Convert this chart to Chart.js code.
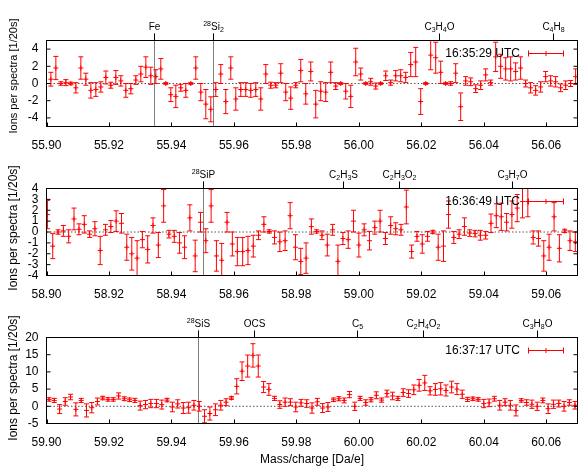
<!DOCTYPE html>
<html>
<head>
<meta charset="utf-8">
<script src="https://cdn.jsdelivr.net/npm/chart.js@4.4.1/dist/chart.umd.min.js"></script>
<style>
  html, body { margin: 0; padding: 0; background: #fff; }
  canvas { display: block; }
</style>
</head>
<body>
<canvas id="p1" width="581" height="160"></canvas>
<canvas id="p2" width="581" height="150"></canvas>
<canvas id="p3" width="581" height="163"></canvas>
<script>
// ---- panel 1 : 16:35:29 UTC, around m/z 56 ----
const p1Mass = [
  55.9014, 55.9030, 55.9046, 55.9062, 55.9078, 55.9094, 55.9110, 55.9126, 55.9142, 55.9158,
  55.9174, 55.9190, 55.9206, 55.9222, 55.9238, 55.9254, 55.9270, 55.9286, 55.9302, 55.9318,
  55.9334, 55.9350, 55.9366, 55.9382, 55.9398, 55.9414, 55.9430, 55.9446, 55.9462, 55.9478,
  55.9494, 55.9510, 55.9526, 55.9542, 55.9558, 55.9574, 55.9590, 55.9606, 55.9622, 55.9638,
  55.9654, 55.9670, 55.9686, 55.9702, 55.9718, 55.9734, 55.9750, 55.9766, 55.9782, 55.9798,
  55.9814, 55.9830, 55.9846, 55.9862, 55.9878, 55.9894, 55.9910, 55.9926, 55.9942, 55.9958,
  55.9974, 55.9990, 56.0006, 56.0022, 56.0038, 56.0054, 56.0070, 56.0086, 56.0102, 56.0118,
  56.0134, 56.0150, 56.0166, 56.0182, 56.0198, 56.0214, 56.0230, 56.0246, 56.0262, 56.0278,
  56.0294, 56.0310, 56.0326, 56.0342, 56.0358, 56.0374, 56.0390, 56.0406, 56.0422, 56.0438,
  56.0454, 56.0470, 56.0486, 56.0502, 56.0518, 56.0534, 56.0550, 56.0566, 56.0582, 56.0598,
  56.0614, 56.0630, 56.0646, 56.0662, 56.0678, 56.0694
];
const p1Ions = [
  0.5, 1.8, 0, 0.1, 0, -0.5, 1.8, 0.5, -0.8, -0.7,
  -0.4, 0.7, -0.2, 0.7, 0.3, -0.8, -0.6, 0.4, 1.1, 1.9,
  0.9, 0.8, 1.7, 0, -1.3, -1.5, -0.5, -0.8, 0, 1.8,
  -1.0, -2.4, -3.0, -0.7, 1.1, -2.1, 1.8, -1.8, -0.7, -0.7,
  -0.8, -0.7, -1.8, 1.1, -0.2, -0.2, 1.2, -1.0, -1.7, -0.2,
  1.5, -1.2, 1.4, -2.4, -0.9, -1.0, 1.3, -0.3, 0, -0.9,
  -1.5, 2.5, 1.1, 0, 0.2, -0.3, 0, 0.9, 0.1, 0.9,
  0.9, 0.7, 2.2, 2.5, -2.1, 0, 3.3, 3.0, 1.3, 0,
  0, 1.2, -2.7, 0.3, 0.2, -0.6, -0.2, 1.0, 0.1, 3.1,
  2.0, 1.7, 1.7, 1.4, 1.8, 0, -0.5, -0.8, -0.4, 0.8,
  0.3, 0.2, -0.5, -0.2, 0, 0.8
];
const p1Err = [
  0.8, 1.35, 0.2, 0.35, 0.15, 0.6, 1.3, 0.7, 0.9, 0.8,
  0.6, 0.75, 0.35, 0.8, 0.6, 0.8, 0.6, 0.5, 0.9, 1.2,
  1.0, 0.8, 1.2, 0.1, 0.8, 1.3, 0.4, 0.8, 0.1, 1.3,
  1.0, 1.7, 1.45, 0.8, 1.1, 1.4, 1.3, 1.3, 0.8, 0.8,
  0.8, 0.8, 1.3, 1.1, 0.35, 0.3, 1.1, 1.0, 1.3, 0.3,
  1.3, 1.2, 1.1, 1.6, 1.1, 1.1, 1.2, 0.4, 0.1, 0.9,
  1.3, 1.6, 0.7, 0.1, 0.4, 0.35, 0.1, 0.55, 0.3, 0.6,
  0.7, 0.6, 1.4, 1.7, 1.5, 0.1, 1.7, 1.8, 1.3, 0.1,
  0.2, 1.1, 1.6, 0.5, 0.45, 0.45, 0.5, 0.7, 0.3, 1.7,
  1.4, 1.3, 1.4, 1.0, 1.3, 0.4, 0.6, 0.55, 0.6, 0.6,
  0.6, 0.6, 0.45, 0.5, 0.35, 0.9
];
const p1Ticks = [55.90, 55.92, 55.94, 55.96, 55.98, 56.00, 56.02, 56.04, 56.06];
const p1YTicks = [-4, -2, 0, 2, 4];
const p1PeakMass = [55.9344, 55.9533, 56.0257, 56.0621];
const p1PeakName = ['Fe', '^28Si_2', 'C_3H_4O', 'C_4H_8'];

// ---- panel 2 : 16:36:49 UTC, around m/z 59 ----
const p2Mass = [
  58.9003, 58.9020, 58.9037, 58.9054, 58.9071, 58.9088, 58.9104, 58.9121, 58.9138, 58.9155,
  58.9172, 58.9189, 58.9206, 58.9223, 58.9240, 58.9257, 58.9273, 58.9290, 58.9307, 58.9324,
  58.9341, 58.9358, 58.9375, 58.9392, 58.9409, 58.9426, 58.9442, 58.9459, 58.9476, 58.9493,
  58.9510, 58.9527, 58.9544, 58.9561, 58.9578, 58.9595, 58.9611, 58.9628, 58.9645, 58.9662,
  58.9679, 58.9696, 58.9713, 58.9730, 58.9747, 58.9764, 58.9780, 58.9797, 58.9814, 58.9831,
  58.9848, 58.9865, 58.9882, 58.9899, 58.9916, 58.9933, 58.9949, 58.9966, 58.9983, 59.0000,
  59.0017, 59.0034, 59.0051, 59.0068, 59.0085, 59.0102, 59.0118, 59.0135, 59.0152, 59.0169,
  59.0186, 59.0203, 59.0220, 59.0237, 59.0254, 59.0271, 59.0287, 59.0304, 59.0321, 59.0338,
  59.0355, 59.0372, 59.0389, 59.0406, 59.0423, 59.0440, 59.0456, 59.0473, 59.0490, 59.0507,
  59.0524, 59.0541, 59.0558, 59.0575, 59.0592, 59.0609, 59.0625, 59.0642, 59.0659, 59.0676,
  59.0693
];
const p2Ions = [
  1.6, -1.3, 0, 0.1, -0.4, 1.2, 0.25, 0.7, -0.2, 0.3,
  -1.7, 0.2, 0.5, 1.0, 0.8, -1.4, -2.0, -2.4, -0.7, -1.6,
  0.6, -1.2, 2.4, -0.2, -0.4, -1.0, -1.4, 1.3, -2.2, 0.9,
  -0.8, 2.4, -2.2, -2.6, 0.9, -1.1, -1.8, -1.8, -1.7, -1.3,
  -0.3, 0.7, 0.05, -0.5, -0.9, -0.8, 1.5, -1.4, -2.7, -2.4,
  0.5, 0.05, -0.3, -1.2, 0.2, -2.7, -0.6, -0.7, 1.0, -1.2,
  0.2, -0.8, 0.4, 1.0, -0.6, 0.6, 0.3, 0.2, 2.3, -1.8,
  -0.4, -1.1, -0.4, 0, -1.4, -1.3, 1.6, -0.5, -0.2, 0.5,
  -0.1, -0.15, -0.3, -0.3, 0.8, 1.5, 1.4, 0.9, 1.6, 2.2,
  2.8, 2.8, -0.5, -0.6, -2.2, -1.4, 1.4, -1.5, 0.1, -0.8,
  -0.9
];
const p2Err = [
  1.3, 1.15, 0.2, 0.5, 0.6, 1.0, 0.5, 0.8, 0.3, 0.65,
  1.3, 0.5, 0.55, 0.95, 0.9, 1.2, 1.5, 1.6, 0.75, 1.25,
  0.7, 1.15, 1.5, 0.35, 0.55, 0.95, 1.05, 1.2, 1.45, 0.9,
  1.1, 1.5, 1.4, 1.55, 0.9, 1.1, 1.3, 1.3, 1.3, 1.0,
  0.4, 0.7, 0.15, 0.6, 0.9, 0.9, 1.2, 1.15, 1.2, 1.4,
  0.7, 0.15, 0.4, 1.0, 0.5, 1.5, 0.55, 0.8, 1.0, 1.1,
  0.55, 0.85, 0.6, 1.0, 0.55, 0.8, 0.55, 0.5, 1.55, 0.6,
  0.45, 0.85, 0.45, 0.15, 1.2, 1.4, 1.25, 0.55, 0.4, 0.8,
  0.3, 0.3, 0.45, 0.35, 0.85, 1.1, 1.25, 0.8, 1.25, 1.25,
  1.5, 1.4, 0.6, 0.7, 1.4, 1.2, 1.3, 1.25, 0.15, 0.9,
  0.9
];
const p2Ticks = [58.90, 58.92, 58.94, 58.96, 58.98, 59.00, 59.02, 59.04, 59.06];
const p2YTicks = [-4, -3, -2, -1, 0, 1, 2, 3, 4];
const p2PeakMass = [58.9502, 58.9950, 59.0128, 59.0491];
const p2PeakName = ['^28SiP', 'C_2H_3S', 'C_2H_3O_2', 'C_3H_7O'];

// ---- panel 3 : 16:37:17 UTC, around m/z 60 ----
const p3Mass = [
  59.9008, 59.9025, 59.9042, 59.9060, 59.9077, 59.9094, 59.9111, 59.9128, 59.9145, 59.9163,
  59.9180, 59.9197, 59.9214, 59.9231, 59.9249, 59.9266, 59.9283, 59.9300, 59.9317, 59.9334,
  59.9352, 59.9369, 59.9386, 59.9403, 59.9420, 59.9438, 59.9455, 59.9472, 59.9489, 59.9506,
  59.9523, 59.9541, 59.9558, 59.9575, 59.9592, 59.9609, 59.9626, 59.9644, 59.9661, 59.9678,
  59.9695, 59.9712, 59.9730, 59.9747, 59.9764, 59.9781, 59.9798, 59.9815, 59.9833, 59.9850,
  59.9867, 59.9884, 59.9901, 59.9919, 59.9936, 59.9953, 59.9970, 59.9987, 60.0004, 60.0022,
  60.0039, 60.0056, 60.0073, 60.0090, 60.0108, 60.0125, 60.0142, 60.0159, 60.0176, 60.0193,
  60.0211, 60.0228, 60.0245, 60.0262, 60.0279, 60.0297, 60.0314, 60.0331, 60.0348, 60.0365,
  60.0382, 60.0400, 60.0417, 60.0434, 60.0451, 60.0468, 60.0485, 60.0503, 60.0520, 60.0537,
  60.0554, 60.0571, 60.0589, 60.0606, 60.0623, 60.0640, 60.0657, 60.0674, 60.0692
];
const p3Ions = [
  2.0, 1.7, -0.8, 1.4, 2.7, -0.9, 1.7, -1.2, -0.4, 1.4,
  2.4, 2.0, 2.0, 3.0, 2.2, 1.9, 1.7, 0.2, 0.5, 0.8,
  0.8, 0.5, 1.8, -0.2, 0.7, -0.5, -0.4, 0.3, 0, -2.9,
  -2.1, -1.0, 0.3, 1.2, 2.4, 5.8, 10.2, 11.7, 14.8, 11.7,
  5.6, 4.9, 2.3, 0.5, 1.2, 1.2, -0.2, 1.0, 0.8, -0.5,
  1.3, -0.5, -0.2, 1.9, 2.2, 1.7, 3.4, 0, 2.3, 1.1,
  1.9, 3.2, 1.8, 3.7, 3.0, 2.3, 4.0, 3.7, 4.8, 6.1,
  6.8, 4.5, 4.9, 5.1, 4.6, 5.6, 5.0, 3.5, 2.0, 2.2,
  2.0, 0.8, 1.0, 2.2, 0.3, 1.2, 0.3, -1.2, 1.7, 1.1,
  0.6, 0, 1.7, -0.7, 0.6, 0.8, 0, 1.1, 0.3
];
const p3Err = [
  0.5, 0.6, 1.3, 1.1, 0.8, 1.9, 0.6, 1.9, 1.5, 1.0,
  0.5, 0.5, 0.5, 0.9, 0.55, 0.5, 0.6, 1.3, 1.2, 1.2,
  1.2, 1.3, 0.5, 1.4, 1.2, 1.6, 1.6, 1.4, 1.4, 1.9,
  1.9, 1.7, 1.4, 1.0, 0.4, 2.2, 2.7, 3.2, 3.4, 3.2,
  1.6, 1.7, 0.6, 1.1, 1.2, 1.0, 1.4, 1.0, 1.1, 1.5,
  1.0, 1.3, 1.3, 0.5, 0.6, 0.7, 0.9, 1.2, 0.6, 0.8,
  0.6, 1.0, 0.6, 1.0, 1.1, 0.6, 1.1, 1.1, 1.4, 1.7,
  2.2, 1.2, 1.7, 1.8, 1.6, 1.7, 1.6, 1.2, 0.6, 0.5,
  0.5, 1.2, 1.1, 0.7, 1.4, 1.0, 1.4, 1.6, 0.5, 0.8,
  1.2, 1.2, 0.7, 1.4, 1.2, 1.0, 1.4, 0.8, 1.1
];
const p3Ticks = [59.90, 59.92, 59.94, 59.96, 59.98, 60.00, 60.02, 60.04, 60.06];
const p3YTicks = [-5, 0, 5, 10, 15, 20];
const p3PeakMass = [59.9485, 59.9664, 59.9995, 60.0205, 60.0570];
const p3PeakName = ['^28SiS', 'OCS', 'C_5', 'C_2H_4O_2', 'C_3H_8O'];

const FONT = "'Liberation Sans', Arial, sans-serif";
const RED = '#ff0000';
const YTITLE = 'Ions per spectra [1/20s]';

// split "C_3H_4O" / "^28Si_2" into normal, sub and super pieces
function formulaParts(s) {
  const parts = [];
  for (let i = 0; i < s.length; i++) {
    const c = s[i];
    if (c === '_') { parts.push({t: s[i + 1], k: 'sub'}); i++; }
    else if (c === '^') {
      let d = '';
      while (i + 1 < s.length && /[0-9]/.test(s[i + 1])) { d += s[i + 1]; i++; }
      parts.push({t: d, k: 'sup'});
    } else {
      if (parts.length && parts[parts.length - 1].k === 'n') parts[parts.length - 1].t += c;
      else parts.push({t: c, k: 'n'});
    }
  }
  return parts;
}

function drawFormula(ctx, s, cx, base) {
  const parts = formulaParts(s);
  const fontOf = k => (k === 'n' ? '10px ' : '7px ') + FONT;
  let w = 0;
  parts.forEach(p => { ctx.font = fontOf(p.k); p.w = ctx.measureText(p.t).width; w += p.w; });
  let x = cx - w / 2;
  ctx.textAlign = 'left';
  ctx.textBaseline = 'alphabetic';
  parts.forEach(p => {
    ctx.font = fontOf(p.k);
    const dy = p.k === 'sub' ? 2.5 : (p.k === 'sup' ? -4 : 0);
    ctx.fillText(p.t, x, base + dy);
    x += p.w;
  });
}

function gnuplotLook(panel) {
  return {
    id: 'gnuplotLook',
    beforeDatasetsDraw(chart) {
      const {ctx, chartArea: a, scales: {x, y}} = chart;
      ctx.save();
      // dotted zero line
      const y0 = y.getPixelForValue(0);
      ctx.strokeStyle = '#555';
      ctx.lineWidth = 1;
      ctx.setLineDash([1.5, 2]);
      ctx.beginPath();
      ctx.moveTo(a.left, y0);
      ctx.lineTo(a.right, y0);
      ctx.stroke();
      ctx.setLineDash([]);
      // full height lines for the isobaric candidates
      ctx.strokeStyle = '#808080';
      panel.peakMass.forEach((m, i) => {
        if (panel.fullLine.indexOf(panel.peakName[i]) < 0) return;
        const px = Math.round(x.getPixelForValue(m)) + 0.5;
        ctx.beginPath();
        ctx.moveTo(px, a.top - 7);
        ctx.lineTo(px, a.bottom);
        ctx.stroke();
      });
      ctx.restore();
    },
    afterDatasetsDraw(chart) {
      const {ctx, chartArea: a, scales: {x, y}} = chart;
      ctx.save();
      ctx.beginPath();
      ctx.rect(a.left, a.top, a.right - a.left, a.bottom - a.top);
      ctx.clip();
      ctx.strokeStyle = RED;
      ctx.lineWidth = 1;
      panel.mass.forEach((m, i) => {
        const px = x.getPixelForValue(m);
        const yt = y.getPixelForValue(panel.ions[i] + panel.err[i]);
        const yb = y.getPixelForValue(panel.ions[i] - panel.err[i]);
        ctx.beginPath();
        ctx.moveTo(px, yt); ctx.lineTo(px, yb);
        ctx.moveTo(px - 2.5, yt); ctx.lineTo(px + 2.5, yt);
        ctx.moveTo(px - 2.5, yb); ctx.lineTo(px + 2.5, yb);
        ctx.stroke();
      });
      ctx.restore();
    },
    afterDraw(chart) {
      const {ctx, chartArea: a, scales: {x, y}} = chart;
      ctx.save();
      ctx.strokeStyle = '#000';
      ctx.lineWidth = 1;
      ctx.strokeRect(a.left, a.top, a.right - a.left, a.bottom - a.top);
      // inward tick marks
      ctx.beginPath();
      y.ticks.forEach(t => {
        const py = y.getPixelForValue(t.value);
        ctx.moveTo(a.left, py); ctx.lineTo(a.left + 4, py);
        ctx.moveTo(a.right, py); ctx.lineTo(a.right - 4, py);
      });
      x.ticks.forEach(t => {
        const px = Math.round(x.getPixelForValue(t.value)) + 0.5;
        ctx.moveTo(px, a.bottom); ctx.lineTo(px, a.bottom - 4);
      });
      ctx.stroke();
      // species labels on top
      ctx.fillStyle = '#000';
      panel.peakMass.forEach((m, i) => {
        const px = Math.round(x.getPixelForValue(m)) + 0.5;
        ctx.beginPath();
        ctx.moveTo(px, a.top); ctx.lineTo(px, a.top - 7);
        ctx.stroke();
        drawFormula(ctx, panel.peakName[i], px, a.top - 11);
      });
      // y label, rotated, placed like gnuplot does it
      ctx.save();
      ctx.translate(14, panel.yTitleAt);
      ctx.rotate(-Math.PI / 2);
      ctx.font = panel.yTitleSize + 'px ' + FONT;
      ctx.textAlign = 'center';
      ctx.textBaseline = 'middle';
      ctx.fillText(YTITLE, 0, 0);
      ctx.restore();
      // key
      const ky = Math.round(a.top + 12) + 0.5;
      ctx.font = '12px ' + FONT;
      ctx.textAlign = 'right';
      ctx.textBaseline = 'middle';
      ctx.fillText(panel.time, 520, ky);
      ctx.strokeStyle = RED;
      ctx.beginPath();
      ctx.moveTo(528, ky); ctx.lineTo(563, ky);
      ctx.moveTo(528.5, ky - 3); ctx.lineTo(528.5, ky + 3);
      ctx.moveTo(563.5, ky - 3); ctx.lineTo(563.5, ky + 3);
      ctx.moveTo(546, ky - 2.5); ctx.lineTo(546, ky + 2.5);
      ctx.stroke();
      ctx.restore();
    }
  };
}

function makePanel(id, panel) {
  const canvas = document.getElementById(id);
  const H = canvas.height;
  return new Chart(canvas, {
    type: 'scatter',
    data: {
      datasets: [{
        label: panel.time,
        data: panel.mass.map((m, i) => ({x: m, y: panel.ions[i]})),
        pointStyle: 'cross',
        pointRadius: 2.5,
        pointHoverRadius: 2.5,
        borderColor: RED,
        backgroundColor: RED,
        borderWidth: 1
      }]
    },
    options: {
      responsive: false,
      animation: false,
      devicePixelRatio: 1,
      events: [],
      layout: {padding: {left: 0, right: 2.5, top: panel.top, bottom: 0}},
      plugins: {legend: {display: false}, tooltip: {enabled: false}},
      scales: {
        x: {
          type: 'linear',
          min: panel.xMin,
          max: panel.xMax,
          afterBuildTicks: s => { s.ticks = panel.xTicks.map(v => ({value: v})); },
          afterFit: s => { s.height = H - panel.bottom; },
          grid: {display: false, drawTicks: false},
          border: {display: false},
          ticks: {
            autoSkip: false, maxRotation: 0, padding: 12, color: '#000',
            font: {family: FONT, size: 12},
            callback: v => v.toFixed(2)
          },
          title: {
            display: !!panel.xTitle, text: panel.xTitle || '', color: '#000',
            font: {family: FONT, size: 12}, padding: {top: 0, bottom: 6}
          }
        },
        y: {
          min: panel.yMin,
          max: panel.yMax,
          afterBuildTicks: s => { s.ticks = panel.yTicks.map(v => ({value: v})); },
          afterFit: s => { s.width = 46.5; },
          grid: {display: false, drawTicks: false},
          border: {display: false},
          ticks: {autoSkip: false, padding: 8, color: '#000', font: {family: FONT, size: 12}}
        }
      }
    },
    plugins: [gnuplotLook(panel)]
  });
}

makePanel('p1', {
  mass: p1Mass, ions: p1Ions, err: p1Err, xTicks: p1Ticks, yTicks: p1YTicks,
  peakMass: p1PeakMass, peakName: p1PeakName, fullLine: ['Fe', '^28Si_2'],
  time: '16:35:29 UTC', xMin: 55.90, xMax: 56.07, yMin: -5, yMax: 5,
  top: 40.5, bottom: 126.5, yTitleAt: 76, yTitleSize: 11
});
makePanel('p2', {
  mass: p2Mass, ions: p2Ions, err: p2Err, xTicks: p2Ticks, yTicks: p2YTicks,
  peakMass: p2PeakMass, peakName: p2PeakName, fullLine: ['^28SiP'],
  time: '16:36:49 UTC', xMin: 58.90, xMax: 59.07, yMin: -4, yMax: 4,
  top: 28.5, bottom: 115.5, yTitleAt: 68, yTitleSize: 12
});
makePanel('p3', {
  mass: p3Mass, ions: p3Ions, err: p3Err, xTicks: p3Ticks, yTicks: p3YTicks,
  peakMass: p3PeakMass, peakName: p3PeakName, fullLine: ['^28SiS'],
  time: '16:37:17 UTC', xMin: 59.90, xMax: 60.07, yMin: -5, yMax: 20,
  top: 27.5, bottom: 113.5, yTitleAt: 68, yTitleSize: 12, xTitle: 'Mass/charge [Da/e]'
});
</script>
</body>
</html>
